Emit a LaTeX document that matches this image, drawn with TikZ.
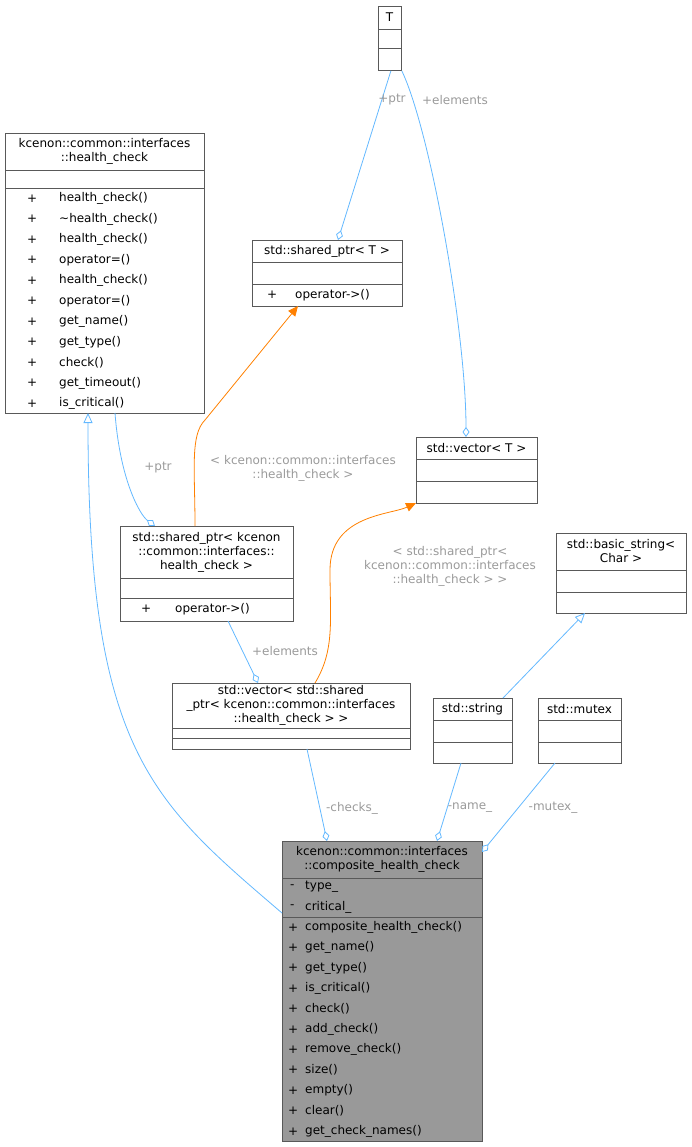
\documentclass[tikz,border=0pt]{standalone}
\usepackage{fontspec}
\setmainfont{DejaVu Sans}
\usetikzlibrary{positioning, arrows.meta}
\definecolor{edgeblue}{HTML}{63B8FF}
\definecolor{lblgray}{HTML}{9A9A9A}
\tikzset{
  cls/.style={draw=black!65, line width=0.8pt, fill=white, anchor=north west, inner sep=0pt},
  txt/.style={font=\fontsize{12}{14}\selectfont, inner sep=0pt, align=center},
  mem/.style={font=\fontsize{12}{14}\selectfont, inner sep=0pt, anchor=west},
  lbl/.style={font=\fontsize{12}{14}\selectfont, text=lblgray, inner sep=0pt, align=center},
  sep/.style={draw=black!65, line width=0.8pt},
  assoc/.style={draw=edgeblue, line width=0.8pt, -{Diamond[open,length=10pt,width=7pt]}},
  inherit/.style={draw=edgeblue, line width=0.8pt, -{Triangle[open,length=10pt,width=9pt]}},
  templ/.style={draw=orange, line width=0.8pt, -{Triangle[fill=orange,length=10pt,width=9pt]}}
}
\begin{document}
\begin{tikzpicture}[x=1pt,y=-1pt]
\useasboundingbox (0,0) rectangle (691,1147);
% classes
\node[cls, minimum width=23pt, minimum height=64pt] (T) at (378,6) {};
\draw[sep] (378,29) -- (401,29) (378,48) -- (401,48);
\node[txt] at (389.5,17) {T};

\node[cls, minimum width=199pt, minimum height=280pt] (hc) at (5,133) {};
\draw[sep] (5,170) -- (204,170) (5,188) -- (204,188);
\node[txt] at (104.5,151) {kcenon::common::interfaces\\::health\_check};
\foreach \m [count=\i] in {health\_check(),\textasciitilde health\_check(),health\_check(),operator=(),health\_check(),operator=(),get\_name(),get\_type(),check(),get\_timeout(),is\_critical()}{
  \node[mem] at (27,178+20.5*\i) {+};
  \node[mem] at (59,178+20.5*\i) {\m};
}

\node[cls, minimum width=150pt, minimum height=66pt] (spT) at (252,240) {};
\draw[sep] (252,262) -- (402,262) (252,284) -- (402,284);
\node[txt] at (327,251) {std::shared\_ptr< T >};
\node[mem] at (267,295) {+};
\node[mem] at (295,295) {operator->()};

\node[cls, minimum width=121pt, minimum height=66pt] (vT) at (416,437) {};
\draw[sep] (416,459) -- (537,459) (416,481) -- (537,481);
\node[txt] at (476.5,448) {std::vector< T >};

\node[cls, minimum width=173pt, minimum height=95pt] (spHC) at (120,526) {};
\draw[sep] (120,578) -- (293,578) (120,598) -- (293,598);
\node[txt] at (206.5,552) {std::shared\_ptr< kcenon\\::common::interfaces::\\health\_check >};
\node[mem] at (141,609) {+};
\node[mem] at (175,609) {operator->()};

\node[cls, minimum width=130pt, minimum height=80pt] (bstr) at (556,533) {};
\draw[sep] (556,570) -- (686,570) (556,592) -- (686,592);
\node[txt] at (621,551) {std::basic\_string<\\Char >};

\node[cls, minimum width=238pt, minimum height=66pt] (vSP) at (172,683) {};
\draw[sep] (172,728) -- (410,728) (172,738) -- (410,738);
\node[txt] at (291,705) {std::vector< std::shared\\\_ptr< kcenon::common::interfaces\\::health\_check > >};

\node[cls, minimum width=79pt, minimum height=65pt] (str) at (433,698) {};
\draw[sep] (433,720) -- (512,720) (433,742) -- (512,742);
\node[txt] at (472.5,709) {std::string};

\node[cls, minimum width=83pt, minimum height=65pt] (mtx) at (538,698) {};
\draw[sep] (538,720) -- (621,720) (538,742) -- (621,742);
\node[txt] at (579.5,709) {std::mutex};

\node[cls, fill=black!40, minimum width=200pt, minimum height=300pt] (comp) at (282,841) {};
\draw[sep] (282,878) -- (482,878) (282,917) -- (482,917);
\node[txt] at (382,859.5) {kcenon::common::interfaces\\::composite\_health\_check};
\node[mem] at (290,887) {-};
\node[mem] at (305,887) {type\_};
\node[mem] at (290,907) {-};
\node[mem] at (305,907) {critical\_};
\foreach \m [count=\i] in {composite\_health\_check(),get\_name(),get\_type(),is\_critical(),check(),add\_check(),remove\_check(),size(),empty(),clear(),get\_check\_names()}{
  \node[mem] at (288,907+20.4*\i) {+};
  \node[mem] at (305,907+20.4*\i) {\m};
}

% connectors
\draw[assoc] ([xshift=1pt]T.south) -- (338,240);
\node[lbl] at (392,100) {+ptr};
\draw[assoc] (T.south east) .. controls (430,130) and (466,330) .. (466,437);
\node[lbl] at (455,100) {+elements};
\draw[templ] (195,526) .. controls (195,470) and (190,435) .. (205,420) -- (298,306);
\node[lbl] at (303,468) {< kcenon::common::interfaces\\::health\_check >};
\draw[assoc] (115,413) .. controls (120,480) and (140,515) .. (155,526);
\node[lbl] at (158,468) {+ptr};
\draw[templ] (315,683) .. controls (335,650) and (330,620) .. (330,570) .. controls (330,515) and (390,515) .. (416,503);
\node[lbl] at (450,566) {< std::shared\_ptr<\\kcenon::common::interfaces\\::health\_check > >};
\draw[assoc] (228,621) -- (258,683);
\node[lbl] at (285,651) {+elements};
\draw[inherit] (503,698) -- (585,613);
\draw[inherit] (282,913) .. controls (150,800) and (88,750) .. (88,413);
\draw[assoc] (307,749) -- (327,841);
\node[lbl] at (352,808) {-checks\_};
\draw[assoc] (461,763) -- (437,841);
\node[lbl] at (470,808) {-name\_};
\draw[assoc] (555,763) -- (482,852);
\node[lbl] at (553,808) {-mutex\_};
\end{tikzpicture}
\end{document}
